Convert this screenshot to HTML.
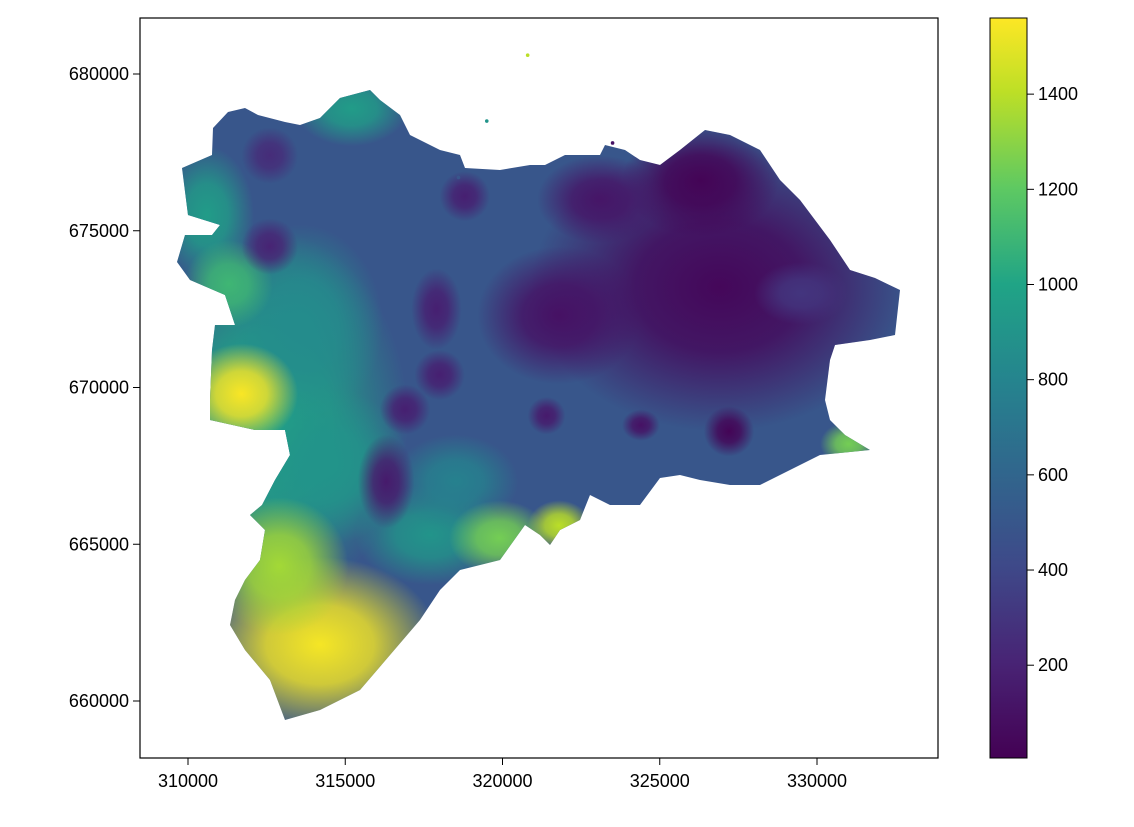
<!DOCTYPE html>
<html><head><meta charset="utf-8"><style>
body{margin:0;background:#fff;width:1134px;height:822px;overflow:hidden;font-family:"Liberation Sans",sans-serif}
svg text{font-family:"Liberation Sans",sans-serif;font-size:18px;fill:#000}
</style></head><body>
<svg id="chart" width="1134" height="822" xmlns="http://www.w3.org/2000/svg">
<defs id="defs">
<clipPath id="mapclip"><path id="outlinePath" d=""/></clipPath>
<linearGradient id="cbgrad" x1="0" y1="1" x2="0" y2="0">
<stop offset="0" stop-color="#440154"/><stop offset="0.13" stop-color="#482475"/><stop offset="0.26" stop-color="#3e4989"/><stop offset="0.39" stop-color="#30678d"/><stop offset="0.51" stop-color="#25848e"/><stop offset="0.64" stop-color="#20a486"/><stop offset="0.77" stop-color="#5ec962"/><stop offset="0.9" stop-color="#bddf26"/><stop offset="1" stop-color="#fde725"/>
</linearGradient>
</defs>
<g id="map" clip-path="url(#mapclip)"></g>
<g id="dots"></g>
<rect x="140" y="18" width="798" height="740" fill="none" stroke="#000" stroke-width="1.2"/>
<g id="xticks"></g>
<g id="yticks"></g>
<rect x="990" y="18" width="37" height="740" fill="url(#cbgrad)" stroke="#000" stroke-width="1"/>
<g id="cticks"></g>
</svg>
<script>
const xTicks=[310000,315000,320000,325000,330000];
const yTicks=[660000,665000,670000,675000,680000];
const cTicks=[200,400,600,800,1000,1200,1400];
const baseValue=500;
// hotspots: x km, y km, rx km, ry km, value
const blobX=[312.5,326.9,326.3,313.6,314.5,311.7,314.2,312.9,310.6,315.2,311.3,317.7,318.5,312.6,312.6,316.3,316.9,318.0,317.9,318.8,321.4,327.2,324.4,319.9,321.8,331.0,321.8,323.1,329.5];
const blobY=[669.0,673.2,676.6,672.0,667.5,669.8,661.8,664.3,675.5,678.9,673.3,665.3,667.0,674.5,677.4,667.0,669.3,670.4,672.5,676.1,669.1,668.6,668.8,665.2,665.6,668.2,672.3,676.0,673.0];
const blobRX=[4.5,6.0,2.5,2.6,2.5,1.8,3.8,2.2,1.5,1.8,1.4,2.4,2.0,0.9,0.9,0.9,0.8,0.8,0.8,0.8,0.6,0.8,0.6,1.6,1.0,0.9,2.6,2.0,1.5];
const blobRY=[6.0,4.6,1.8,3.2,2.5,1.6,2.8,2.2,2.2,1.2,1.4,1.6,1.5,0.9,0.9,1.5,0.8,0.8,1.3,0.8,0.6,0.8,0.5,1.2,0.8,0.7,2.2,1.4,1.0];
const blobV=[1000,40,20,850,900,1550,1540,1350,950,950,1100,900,780,200,250,150,180,180,180,180,150,20,100,1250,1400,1250,100,120,300];
const dotX=[320.8,319.5,318.6,323.5];
const dotY=[680.6,678.5,676.7,677.8];
const dotV=[1400,900,500,100];
const outline=[[177,262],[185,235],[212,235],[220,225],[188,215],[182,168],[212,155],[213,128],[228,112],[245,108],[258,115],[285,122],[300,125],[320,118],[340,98],[370,90],[380,100],[400,115],[410,135],[440,150],[460,155],[465,168],[500,170],[530,165],[545,165],[565,155],[600,155],[605,145],[625,150],[640,160],[660,165],[680,150],[705,130],[730,135],[760,150],[780,180],[800,200],[830,240],[850,270],[875,278],[900,290],[895,335],[870,340],[835,345],[830,360],[825,400],[830,420],[845,435],[870,450],[850,452],[820,455],[790,470],[760,485],[730,485],[700,480],[680,475],[660,478],[640,505],[610,505],[590,495],[580,520],[560,530],[550,545],[540,535],[525,525],[500,560],[480,565],[460,570],[440,590],[420,620],[360,690],[320,710],[285,720],[270,680],[245,650],[230,625],[235,600],[245,580],[260,560],[265,530],[250,515],[262,505],[275,480],[290,455],[285,430],[255,430],[210,420],[210,400],[212,350],[215,325],[235,325],[225,295],[190,280]];
const X=v=>188+(v-310000)*0.03145;
const Y=v=>701-(v-660000)*0.03135;
const C=v=>758-(v-5)*(740/1555);
const stops=[[0,[68,1,84]],[.13,[72,36,117]],[.26,[62,73,137]],[.39,[48,103,141]],[.51,[37,132,142]],[.64,[32,164,134]],[.77,[94,201,98]],[.9,[189,223,38]],[1,[253,231,37]]];
function cmap(v){let t=Math.max(0,Math.min(1,(v-5)/1555));for(let i=1;i<stops.length;i++){if(t<=stops[i][0]){const a=stops[i-1],b=stops[i],f=(t-a[0])/(b[0]-a[0]);return 'rgb('+a[1].map((c,k)=>Math.round(c+(b[1][k]-c)*f)).join(',')+')';}}return 'rgb(253,231,37)';}
const NS='http://www.w3.org/2000/svg';
function mk(tag,attrs,parent){const e=document.createElementNS(NS,tag);for(const k in attrs)e.setAttribute(k,attrs[k]);parent.appendChild(e);return e;}
document.getElementById('outlinePath').setAttribute('d','M'+outline.map(p=>p.join(',')).join('L')+'Z');
const defs=document.getElementById('defs');
const map=document.getElementById('map');
const base=mk('rect',{x:140,y:18,width:798,height:740,fill:cmap(baseValue)},map);


for(let i=0;i<blobV.length;i++){
 const col=cmap(blobV[i]);
 const g=mk('radialGradient',{id:'bg'+i},defs);
 mk('stop',{offset:'0','stop-color':col,'stop-opacity':'1'},g);
 mk('stop',{offset:'0.45','stop-color':col,'stop-opacity':'0.8'},g);
 mk('stop',{offset:'1','stop-color':col,'stop-opacity':'0'},g);
 const e=mk('ellipse',{cx:X(blobX[i]*1000),cy:Y(blobY[i]*1000),rx:blobRX[i]*31.45,ry:blobRY[i]*31.35,fill:'url(#bg'+i+')'},map);
 
 
}
const dots=document.getElementById('dots');
for(let i=0;i<dotV.length;i++){
 const d=mk('circle',{cx:X(dotX[i]*1000),cy:Y(dotY[i]*1000),r:1.8,fill:cmap(dotV[i])},dots);
 
 
}
const xg=document.getElementById('xticks');
xTicks.forEach(v=>{const x=X(v);mk('line',{x1:x,x2:x,y1:758,y2:765,stroke:'#000'},xg);
 const t=mk('text',{x:x,y:787,'text-anchor':'middle'},xg);t.textContent=v;
 
 });
const yg=document.getElementById('yticks');
yTicks.forEach(v=>{const y=Y(v);mk('line',{x1:133,x2:140,y1:y,y2:y,stroke:'#000'},yg);
 const t=mk('text',{x:129,y:y+6,'text-anchor':'end'},yg);t.textContent=v;
 
 });
const cg=document.getElementById('cticks');
cTicks.forEach(v=>{const y=C(v);mk('line',{x1:1027,x2:1034,y1:y,y2:y,stroke:'#000'},cg);
 const t=mk('text',{x:1038,y:y+6},cg);t.textContent=v;
 
 });
</script>
</body></html>
